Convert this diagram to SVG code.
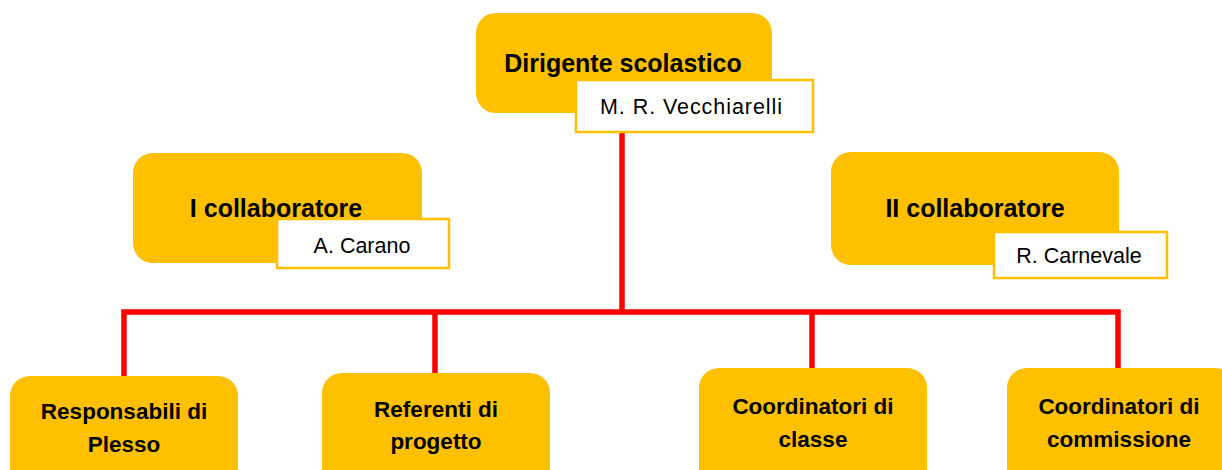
<svg xmlns="http://www.w3.org/2000/svg" width="1222" height="470" viewBox="0 0 1222 470">
<style>
.box{fill:#FFC000}
.name{fill:#FFFFFF;stroke:#FFC000;stroke-width:2.5}
.hd{font-family:"Liberation Sans",Arial,sans-serif;font-weight:bold;font-size:25px;fill:#000;text-anchor:middle}
.bt{font-family:"Liberation Sans",Arial,sans-serif;font-weight:bold;font-size:22.5px;fill:#000;text-anchor:middle}
.nm{font-family:"Liberation Sans",Arial,sans-serif;font-size:21.5px;fill:#000;text-anchor:middle}
.ln{fill:none;stroke:#FF0000;stroke-width:5.5}
</style>
<rect width="1222" height="470" fill="#FFFFFF"/>
<g id="connectors">
<path class="ln" d="M622,131 V312"/>
<path class="ln" d="M124,376 V312 H1118 V370"/>
<path class="ln" d="M435,312 V373"/>
<path class="ln" d="M812,312 V368"/>
</g>
<g id="dirigente">
<rect class="box" x="476" y="13" width="296" height="100" rx="20"/>
<text class="hd" x="623" y="72">Dirigente scolastico</text>
<rect class="name" x="576" y="80" width="237" height="52"/>
<text class="nm" x="691" y="114" textLength="182">M. R. Vecchiarelli</text>
</g>
<g id="collaboratore1">
<rect class="box" x="133" y="153" width="289" height="110" rx="20"/>
<text class="hd" x="276" y="217">I collaboratore</text>
<rect class="name" x="277" y="219" width="172" height="49"/>
<text class="nm" x="362" y="253">A. Carano</text>
</g>
<g id="collaboratore2">
<rect class="box" x="831" y="152" width="288" height="113" rx="20"/>
<text class="hd" x="975" y="217">II collaboratore</text>
<rect class="name" x="994" y="232" width="173" height="46"/>
<text class="nm" x="1079" y="263">R. Carnevale</text>
</g>
<g id="responsabili">
<rect class="box" x="10" y="376" width="228" height="120" rx="20"/>
<text class="bt" x="124" y="419">Responsabili di</text>
<text class="bt" x="124" y="452">Plesso</text>
</g>
<g id="referenti">
<rect class="box" x="322" y="373" width="228" height="120" rx="20"/>
<text class="bt" x="436" y="417">Referenti di</text>
<text class="bt" x="436" y="449">progetto</text>
</g>
<g id="coord-classe">
<rect class="box" x="699" y="368" width="228" height="120" rx="20"/>
<text class="bt" x="813" y="414">Coordinatori di</text>
<text class="bt" x="813" y="447">classe</text>
</g>
<g id="coord-commissione">
<rect class="box" x="1007" y="368" width="228" height="120" rx="20"/>
<text class="bt" x="1119" y="414">Coordinatori di</text>
<text class="bt" x="1119" y="447">commissione</text>
</g>
</svg>
